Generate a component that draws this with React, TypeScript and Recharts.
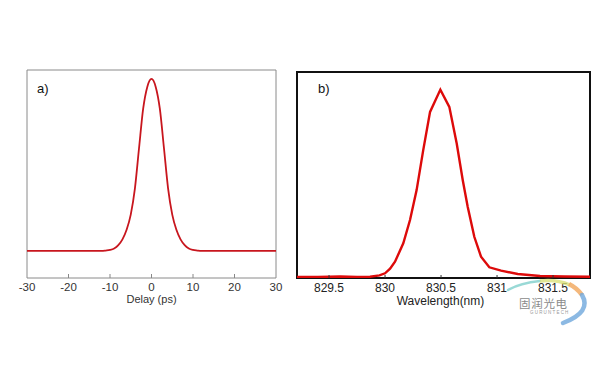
import React from 'react';
import { LineChart, Line, XAxis, YAxis, ReferenceArea, Customized } from 'recharts';

// Panel a: autocorrelation trace
const delayX = [-30, -20, -14, -12, -11, -10, -9, -8, -7, -6, -5, -4, -3, -2, -1, 0, 1, 2, 3, 4, 5, 6, 7, 8, 9, 10, 11, 12, 14, 20, 30];
const delayY = [0.13, 0.13, 0.13, 0.13, 0.132, 0.135, 0.142, 0.158, 0.186, 0.232, 0.305, 0.43, 0.625, 0.815, 0.92, 0.957, 0.92, 0.815, 0.625, 0.43, 0.305, 0.232, 0.186, 0.158, 0.142, 0.135, 0.132, 0.13, 0.13, 0.13, 0.13];
const delayTicks = [-30, -20, -10, 0, 10, 20, 30];

// Panel b: spectrum
const wlX = [829.214, 829.4, 829.6, 829.75, 829.866, 829.95, 830.0, 830.045, 830.089, 830.163, 830.223, 830.282, 830.341, 830.402, 830.494, 830.574, 830.64, 830.694, 830.738, 830.797, 830.857, 830.931, 831.036, 831.185, 831.384, 831.6, 831.83];
const wlY = [0.03, 0.03, 0.04, 0.03, 0.035, 0.07, 0.125, 0.25, 0.435, 0.925, 1.547, 2.347, 3.413, 4.435, 5.03, 4.57, 3.59, 2.61, 1.9, 1.1, 0.57, 0.285, 0.195, 0.107, 0.053, 0.04, 0.035];
const wlTicks = [829.5, 830, 830.5, 831, 831.5];
const wlYTicks = [1, 2, 3, 4, 5];

const dataA = delayX.map((x, i) => ({ x, y: delayY[i] }));
const dataB = wlX.map((x, i) => ({ x, y: wlY[i] }));

const FONT = 'Liberation Sans, Arial, sans-serif';

const BottomTickA = (props: any) => {
  const { x, y, payload } = props;
  const v = payload.value;
  const edge = v === -30 || v === 30;
  return (
    <g>
      {!edge && <line x1={x} x2={x} y1={y} y2={y - 4} stroke="#888" strokeWidth={1} />}
      <text x={x} y={y + 13} textAnchor="middle" fontSize={11.5} fontFamily={FONT} fill="#333">
        {v}
      </text>
    </g>
  );
};

const TopTickA = (props: any) => {
  const { x, y, payload } = props;
  const v = payload.value;
  if (v === -30 || v === 30) return <g />;
  return <line x1={x} x2={x} y1={y} y2={y + 4} stroke="#888" strokeWidth={1} />;
};

const BottomTickB = (props: any) => {
  const { x, y, payload } = props;
  return (
    <g>
      <line x1={x} x2={x} y1={y} y2={y - 3} stroke="#333" strokeWidth={1} />
      <text x={x} y={y + 14} textAnchor="middle" fontSize={12} fontFamily={FONT} fill="#222">
        {payload.value}
      </text>
    </g>
  );
};

const LeftTickB = (props: any) => {
  const { x, y } = props;
  return <line x1={x} x2={x + 3} y1={y} y2={y} stroke="#333" strokeWidth={1} />;
};

const DelayLabel = (props: any) => {
  const vb = props.viewBox;
  return (
    <text x={vb.x + vb.width / 2} y={vb.y + 25} textAnchor="middle" fontSize={11} fontFamily={FONT} fill="#333">
      Delay (ps)
    </text>
  );
};

const WlLabel = (props: any) => {
  const vb = props.viewBox;
  return (
    <text x={vb.x + vb.width / 2 - 3} y={vb.y + 27} textAnchor="middle" fontSize={12} fontFamily={FONT} fill="#222">
      Wavelength(nm)
    </text>
  );
};

const PanelLabelA = () => (
  <text x={37} y={93} fontSize={13} fontFamily={FONT} fill="#111">a)</text>
);
const PanelLabelB = () => (
  <text x={28} y={93} fontSize={13} fontFamily={FONT} fill="#111">b)</text>
);

export default function App() {
  return (
    <div style={{ position: 'absolute', left: 0, top: 0, width: 600, height: 372, background: '#fff', overflow: 'hidden' }}>
      <div style={{ position: 'absolute', left: 0, top: 0 }}>
        <LineChart width={300} height={372} data={dataA} margin={{ left: 27, right: 24, top: 70, bottom: 64 }}>
          <XAxis
            dataKey="x"
            type="number"
            domain={[-30, 30]}
            ticks={delayTicks}
            height={30}
            tickSize={0}
            tickMargin={0}
            axisLine={false}
            tick={BottomTickA}
            interval={0}
            label={DelayLabel}
          />
          <XAxis
            xAxisId="top"
            orientation="top"
            dataKey="x"
            type="number"
            domain={[-30, 30]}
            ticks={delayTicks}
            height={0}
            tickSize={0}
            tickMargin={0}
            axisLine={false}
            tick={TopTickA}
            interval={0}
          />
          <YAxis type="number" domain={[0, 1]} hide />
          <ReferenceArea x1={-30} x2={30} y1={0} y2={1} fill="none" stroke="#8a8a8a" strokeWidth={1} ifOverflow="visible" />
          <Line dataKey="y" type="monotone" stroke="#c8161e" strokeWidth={1.8} dot={false} isAnimationActive={false} />
          <Customized component={PanelLabelA} />
        </LineChart>
      </div>
      <div style={{ position: 'absolute', left: 290, top: 0 }}>
        <LineChart width={310} height={372} data={dataB} margin={{ left: 7, right: 10, top: 72, bottom: 64 }}>
          <XAxis
            dataKey="x"
            type="number"
            domain={[829.214, 831.83]}
            allowDataOverflow
            ticks={wlTicks}
            height={30}
            tickSize={0}
            tickMargin={0}
            axisLine={false}
            tick={BottomTickB}
            interval={0}
            label={WlLabel}
          />
          <YAxis
            type="number"
            domain={[0, 5.5]}
            ticks={wlYTicks}
            width={0}
            tickSize={0}
            tickMargin={0}
            axisLine={false}
            tick={LeftTickB}
            interval={0}
          />
          <Line dataKey="y" type="linear" stroke="#dd0a0a" strokeWidth={2.4} dot={false} isAnimationActive={false} />
          <ReferenceArea x1={829.214} x2={831.83} y1={0} y2={5.5} fill="none" stroke="#111" strokeWidth={2} ifOverflow="visible" />
          <Customized component={PanelLabelB} />
        </LineChart>
      </div>
      <svg width={600} height={372} style={{ position: 'absolute', left: 0, top: 0, pointerEvents: 'none' }}>
        <path d="M508,290 Q520,283 540,281" stroke="#7fd0cc" strokeWidth={2.5} fill="none" opacity={0.8} strokeLinecap="round" />
        <path d="M540,281 Q556,279 570,285" stroke="#d9e07a" strokeWidth={3.5} fill="none" opacity={0.8} />
        <path d="M569,284 Q577,288 582,295" stroke="#f0a050" strokeWidth={4.5} fill="none" opacity={0.75} />
        <path d="M582,295 Q592,312 563,323" stroke="#6fa8dc" strokeWidth={4.5} fill="none" opacity={0.8} strokeLinecap="round" />
        <text x={519} y={307.5} fontSize={11.5} fontFamily="Noto Sans CJK SC" fill="#8a8a8a" letterSpacing={0.7}>固润光电</text>
        <text x={530} y={313.5} fontSize={4.5} fontFamily={FONT} fill="#999" letterSpacing={1.2}>GURUNTECH</text>
      </svg>
    </div>
  );
}
